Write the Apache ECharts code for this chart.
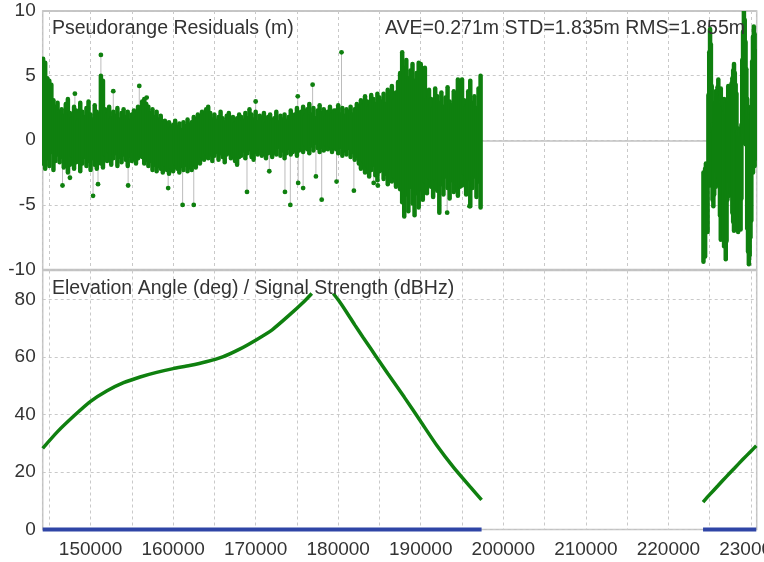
<!DOCTYPE html>
<html>
<head>
<meta charset="utf-8">
<script src="https://cdn.jsdelivr.net/npm/echarts@6/dist/echarts.min.js"></script>
<style>
  html, body { margin: 0; padding: 0; background: #ffffff; }
  #chart { width: 764px; height: 562px; }
</style>
</head>
<body>
<div id="chart"></div>
<script>
// Time axis (GPS seconds of week)
const timeMin = 144200;
const timeMax = 230700;

// Pseudorange residuals, first pass: per-epoch spread (low / high), 250 s epochs
const resStart1 = 144250;
const resStep1 = 250;
const resHigh1 = [
  6.3, 6.0, 4.8, 4.6, 4.3, 3.1, 2.6, 2.9, 2.2,
  2.4, 1.9, 2.8, 3.2, 2.1, 1.7, 2.6, 2.3, 1.5, 2.9, 2.2, 1.8, 2.5, 3.0, 2.0, 1.6, 2.7, 2.2, 1.9,
  5.0, 4.6, 2.4, 2.0, 2.6, 1.7, 2.2, 1.9, 2.5, 1.6, 2.1, 2.4, 1.8, 2.2, 1.5, 2.0, 2.3, 1.7, 2.6, 2.1,
  3.0, 3.2, 2.8, 2.6, 2.1, 2.4, 1.8, 2.2, 1.6, 1.9, 1.3, 1.5, 1.1, 1.4, 0.9, 1.2, 1.5, 1.0, 1.3, 0.8, 1.4, 1.1, 1.6, 1.2,
  1.4, 1.8, 1.5, 2.0, 1.7, 2.2, 1.9, 2.4, 2.6, 2.1, 1.6, 2.0, 1.5, 1.8, 2.2, 1.7, 1.4, 1.9, 2.1, 1.6, 1.8, 1.3, 1.7, 2.0,
  1.8, 1.5, 2.1, 1.7, 2.4, 2.0, 1.6, 2.2, 1.4, 1.9, 1.6, 2.1, 1.3, 1.8, 2.0, 1.5, 1.7, 2.2, 1.4, 1.9, 1.6, 2.0, 1.5, 1.8, 2.3, 1.7, 2.0, 2.5, 2.1,
  2.2, 2.6, 1.9, 2.4, 2.8, 2.0, 2.5, 1.7, 2.3, 2.7, 2.1, 2.4, 1.8, 2.2, 2.6, 2.0, 2.3,
  2.3, 2.7, 2.0, 2.5, 1.9, 2.4, 2.2, 2.6, 2.0, 2.4, 2.8, 2.3, 3.1, 2.7, 3.4, 3.0, 2.6, 3.5, 3.2, 2.8, 3.6, 3.3,
  3.0, 3.6, 2.8, 3.9, 3.3, 4.2, 3.1, 3.7, 4.5, 5.2,
  6.8, 5.6, 6.2, 4.8, 5.4, 5.9, 4.6, 5.2, 6.0,
  5.9, 4.6, 5.6, 3.2, 3.9, 3.2, 2.5, 4.0, 3.4, 2.9, 3.7, 2.6, 3.3, 4.1, 3.0, 2.7, 3.8, 3.2, 4.7, 3.5,
  4.7, 3.1, 2.6, 3.8, 4.6, 2.9, 3.4, 2.5, 4.0, 5.0
];
const resLow1 = [
  -1.8, -2.2, -1.4, -2.0, -0.9, -2.3, -1.6, -1.1, -1.7,
  -1.3, -2.1, -1.6, -2.5, -1.9, -1.2, -2.2, -1.7, -1.5, -2.4, -1.8, -1.3, -2.0, -1.6, -2.3, -1.4, -1.9, -2.2, -1.5,
  -1.8, -2.1, -1.1, -1.6, -0.9, -1.9, -1.4, -1.0, -2.0, -1.3, -1.7, -1.1, -1.5, -2.0, -1.2, -1.6, -0.9, -1.8, -1.4, -1.2,
  -1.3, -1.8, -1.5, -2.0, -1.6, -2.3, -1.9, -2.4, -2.0, -2.2, -2.5, -1.9, -2.3, -2.6, -2.1, -2.4, -1.8, -2.2, -2.5, -2.0, -2.3, -1.9, -2.4, -2.1,
  -2.3, -1.9, -2.1, -1.6, -1.8, -1.3, -1.5, -1.0, -1.4, -1.1, -1.6, -1.2, -0.9, -1.5, -1.0, -1.3, -1.7, -1.1, -0.8, -1.4, -1.2, -1.6, -1.9, -1.3,
  -1.2, -0.8, -1.4, -1.0, -0.7, -1.3, -1.5, -0.9, -1.1, -0.6, -1.2, -0.8, -1.4, -1.0, -0.7, -1.3, -0.9, -1.1, -0.5, -1.2, -0.8, -1.4, -1.0, -0.6, -1.1, -0.9, -0.7, -1.2, -0.8,
  -0.6, -0.9, -0.3, -0.7, -1.0, -0.4, -0.8, -0.2, -0.6, -0.9, -0.5, -0.8, -0.3, -0.7, -0.4, -0.9, -0.6,
  -0.7, -1.0, -0.5, -1.2, -0.8, -1.1, -0.6, -1.3, -0.9, -1.5, -1.2, -1.8, -2.2, -1.6, -2.5, -2.0, -2.8, -2.3, -1.9, -2.7, -3.1, -2.4,
  -2.3, -3.0, -2.6, -3.4, -2.1, -3.2, -2.8, -3.6, -3.0, -3.8,
  -4.8, -5.9, -4.2, -5.5, -3.6, -4.9, -5.8, -4.1, -5.2,
  -3.8, -4.6, -3.2, -4.1, -2.9, -3.6, -4.4, -3.0, -3.9, -5.6, -3.4, -4.2, -2.8, -3.7, -4.5, -3.1, -4.0, -3.3, -4.3, -3.6,
  -3.5, -2.6, -4.2, -3.0, -5.1, -3.7, -2.8, -4.4, -3.2, -5.2
];

// Pseudorange residuals, second pass: 100 s epochs
const resStart2 = 224250;
const resStep2 = 100;
const resHigh2 = [
  -2.5, -3.0, -2.2,
  -1.8, -2.4, -2.0,
  3.5, 6.8, 8.6, 7.4, 4.2,
  1.2, 0.6, 1.0,
  2.9, 3.8, 3.3, 4.1, 4.7, 3.6,
  3.4, 4.0, 2.7, 3.1,
  2.6, 3.2, 2.2, 2.8, 1.9,
  3.1, 4.2, 3.6, 2.9, 3.9, 4.4,
  4.8, 5.4, 5.9, 5.2, 4.3, 3.6,
  0.6, 0.9, 0.3, 0.7, 0.2, 1.2,
  6.2, 8.4, 10.0, 9.3, 7.6, 5.5,
  3.2, 2.6, 1.8, 2.4, 1.5, 2.0,
  6.1, 8.0, 8.8, 8.2, 6.9, 5.3
];
const resLow2 = [
  -9.4, -8.6, -9.0,
  -6.8, -5.6, -7.1,
  -2.6, -1.2, -3.5, -0.8, -2.2,
  -4.6, -5.1, -4.2,
  -3.0, -3.6, -2.4, -3.2, -2.8, -3.5,
  -5.8, -7.7, -6.4, -7.0,
  -7.4, -8.2, -6.9, -9.2, -7.8,
  -4.6, -3.8, -4.3, -3.2, -4.0, -3.5,
  -5.6, -6.3, -7.0, -5.9, -4.8, -5.4,
  -6.4, -7.1, -6.6, -5.8, -6.9, -4.5,
  0.4, -0.2, 0.1, 0.6, -0.3, 0.2,
  -6.8, -8.6, -9.6, -8.9, -7.5, -6.2,
  -1.8, -2.5, -1.2, -2.0, -0.6, -1.4
];

// Isolated residual outliers
const outlierTime = [146600, 147500, 148100, 150300, 150900, 151250, 152750, 154550, 155900, 156800,
  159400, 161150, 162500, 168950, 170000, 171650, 173550, 174200, 175100, 175150,
  175750, 176900, 177300, 178000, 179800, 180400, 181900, 184300, 184800, 193200, 195900];
const outlierValue = [-3.5, -2.9, 3.6, -4.3, -3.4, 6.6, 3.8, -3.5, 4.2, 3.3,
  -3.7, -5.0, -5.0, -4.0, 3.0, -2.4, -4.0, -5.0, 3.4, -3.3,
  -3.7, 4.3, -2.8, -4.6, -3.2, 6.8, -3.9, -3.3, -3.5, -5.6, -5.1];

// Elevation angle (deg); null marks a data gap
const elevTime = [144200, 146000, 148000, 150000, 152000, 154000, 156000, 158000, 160000, 162000,
  164000, 166000, 168000, 170000, 172000, 174000, 176000, 176800, 178100,
  179400, 180000, 181000, 182000, 183000, 184000, 185000, 186000,
  188000, 190000, 192000, 194000, 196000, 197370, 210000,
  224200, 225000, 226000, 227000, 228000, 229000, 230000, 230650];
const elevValue = [28.2, 34.0, 39.5, 44.5, 48.2, 51.0, 53.0, 54.6, 55.9, 57.0,
  58.3, 60.0, 62.6, 65.8, 69.4, 74.3, 79.6, 82.0, null,
  82.0, 79.8, 75.6, 71.1, 66.8, 62.6, 58.4, 54.2,
  46.0, 37.5, 29.0, 21.5, 14.8, 10.3, null,
  9.5, 12.1, 15.2, 18.3, 21.3, 24.3, 27.2, 29.1];

// Signal strength (dBHz)
const snrTime = [144200, 197370, 210000, 224200, 230650];
const snrValue = [0, 0, null, 0, 0];

const title1 = 'Pseudorange Residuals (m)';
const statsText = 'AVE=0.271m STD=1.835m RMS=1.855m';
const title2 = 'Elevation Angle (deg) / Signal Strength (dBHz)';

const GREEN = '#0f800f';
const BLUE = '#2f45a6';
const GRID_COLOR = '#c9c9c9';
const FRAME_COLOR = '#c2c2c2';
const TEXT_COLOR = '#333333';
const FONT = "'Liberation Sans', Arial, sans-serif";

function bandData(start, step, lows, highs) {
  const n = Math.min(lows.length, highs.length);
  const out = [];
  for (let i = 0; i < n; i++) out.push([start + i * step, lows[i], highs[i]]);
  return out;
}
const band1 = bandData(resStart1, resStep1, resLow1, resHigh1);
const band2 = bandData(resStart2, resStep2, resLow2, resHigh2);
const outliers = outlierTime.map((t, i) => [t, outlierValue[i]]);
const elevData = elevTime.map((t, i) => [t, elevValue[i] === null ? '-' : elevValue[i]]);
const snrData = snrTime.map((t, i) => [t, snrValue[i] === null ? '-' : snrValue[i]]);

function renderBand(params, api) {
  const hi = api.coord([api.value(0), api.value(2)]);
  const lo = api.coord([api.value(0), api.value(1)]);
  return {
    type: 'line',
    shape: { x1: hi[0], y1: hi[1], x2: lo[0], y2: lo[1] },
    style: { stroke: GREEN, lineWidth: 4.5, lineCap: 'round' }
  };
}

function renderOutlier(params, api) {
  const p = api.coord([api.value(0), api.value(1)]);
  const b = api.coord([api.value(0), 0]);
  return {
    type: 'group',
    children: [
      { type: 'line', shape: { x1: p[0], y1: p[1], x2: b[0], y2: b[1] },
        style: { stroke: '#bcbcbc', lineWidth: 1 } },
      { type: 'circle', shape: { cx: p[0], cy: p[1], r: 2.4 }, style: { fill: GREEN } }
    ]
  };
}

const dashed = { color: GRID_COLOR, type: [3, 3], width: 1 };
const labelStyle = { fontSize: 19, color: TEXT_COLOR, fontFamily: FONT };

function timeAxis(gridIndex, showLabels) {
  return {
    type: 'value', gridIndex: gridIndex, min: timeMin, max: timeMax, splitNumber: 17,
    axisLine: { show: false }, axisTick: { show: false },
    splitLine: { show: true, lineStyle: dashed },
    axisLabel: Object.assign({
      show: showLabels, margin: 11, hideOverlap: false,
      formatter: v => (v % 10000 === 0 ? String(v) : '')
    }, labelStyle)
  };
}

const gridBase = {
  left: 42.7, right: 7.3, show: true, containLabel: false, outerBoundsMode: 'none',
  borderColor: FRAME_COLOR, borderWidth: 1.5, backgroundColor: 'transparent'
};

const chart = echarts.init(document.getElementById('chart'), null, { renderer: 'canvas' });
chart.setOption({
  animation: false,
  backgroundColor: '#ffffff',
  title: [
    { text: title1, left: 52, top: 19, padding: 0,
      textStyle: { fontSize: 19.5, fontWeight: 'normal', color: TEXT_COLOR, fontFamily: FONT } },
    { text: statsText, right: 19, top: 19, padding: 0,
      textStyle: { fontSize: 19.5, fontWeight: 'normal', color: TEXT_COLOR, fontFamily: FONT } },
    { text: title2, left: 52, top: 279, padding: 0,
      textStyle: { fontSize: 19.5, fontWeight: 'normal', color: TEXT_COLOR, fontFamily: FONT } }
  ],
  grid: [
    Object.assign({ top: 11, height: 258.5 }, gridBase),
    Object.assign({ top: 270.5, bottom: 32.5 }, gridBase)
  ],
  xAxis: [timeAxis(0, false), timeAxis(1, true)],
  yAxis: [
    { type: 'value', gridIndex: 0, min: -10, max: 10, interval: 5,
      axisLine: { show: false }, axisTick: { show: false },
      splitLine: { show: true, lineStyle: dashed },
      axisLabel: Object.assign({ margin: 7 }, labelStyle) },
    { type: 'value', gridIndex: 1, min: 0, max: 90, interval: 20,
      axisLine: { show: false }, axisTick: { show: false },
      splitLine: { show: true, lineStyle: dashed },
      axisLabel: Object.assign({ margin: 7, formatter: v => (v % 20 === 0 ? String(v) : '') }, labelStyle) },
    // zero reference line of the residual panel
    { type: 'value', gridIndex: 0, min: -10, max: 10, interval: 10, position: 'left',
      axisLine: { show: false }, axisTick: { show: false }, axisLabel: { show: false },
      splitLine: { show: true, lineStyle: { color: FRAME_COLOR, type: 'solid', width: 1.5 } } }
  ],
  series: [
    { type: 'custom', name: 'outliers', xAxisIndex: 0, yAxisIndex: 0, z: 2, clip: true,
      renderItem: renderOutlier, encode: { x: 0, y: 1 }, data: outliers },
    { type: 'custom', name: 'residuals 1', xAxisIndex: 0, yAxisIndex: 0, z: 3, clip: true,
      renderItem: renderBand, encode: { x: 0, y: [1, 2] }, data: band1 },
    { type: 'custom', name: 'residuals 2', xAxisIndex: 0, yAxisIndex: 0, z: 3, clip: true,
      renderItem: renderBand, encode: { x: 0, y: [1, 2] }, data: band2 },
    { type: 'line', name: 'elevation', xAxisIndex: 1, yAxisIndex: 1, z: 3,
      data: elevData, showSymbol: false, smooth: 0.2,
      connectNulls: false, clip: false,
      lineStyle: { color: GREEN, width: 3.5 } },
    { type: 'line', name: 'signal', xAxisIndex: 1, yAxisIndex: 1, z: 4,
      data: snrData, showSymbol: false, connectNulls: false, clip: false,
      lineStyle: { color: BLUE, width: 4 } }
  ]
});
</script>
</body>
</html>
